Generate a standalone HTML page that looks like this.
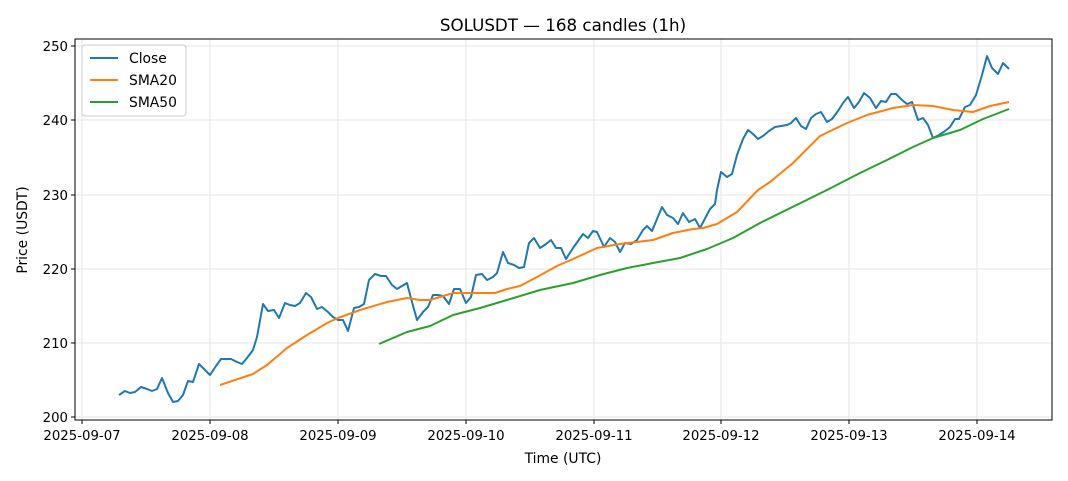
<!DOCTYPE html>
<html><head><meta charset="utf-8"><style>
body{margin:0;background:#fff}
svg{display:block;font-family:"DejaVu Sans","Liberation Sans",sans-serif}
</style></head><body>
<svg width="1068" height="481" viewBox="0 0 1068 481" xmlns="http://www.w3.org/2000/svg">
<rect width="1068" height="481" fill="#fff"/>
<g stroke="#e6e6e6" stroke-width="1">
<line x1="82" y1="39" x2="82" y2="420"/><line x1="210" y1="39" x2="210" y2="420"/><line x1="338" y1="39" x2="338" y2="420"/><line x1="466" y1="39" x2="466" y2="420"/><line x1="594" y1="39" x2="594" y2="420"/><line x1="721" y1="39" x2="721" y2="420"/><line x1="849" y1="39" x2="849" y2="420"/><line x1="977" y1="39" x2="977" y2="420"/>
<line x1="75" y1="417" x2="1052" y2="417"/><line x1="75" y1="343" x2="1052" y2="343"/><line x1="75" y1="269" x2="1052" y2="269"/><line x1="75" y1="195" x2="1052" y2="195"/><line x1="75" y1="120" x2="1052" y2="120"/><line x1="75" y1="46" x2="1052" y2="46"/>
</g>
<g fill="none" stroke-width="2" stroke-linejoin="round">
<polyline stroke="#1f77b4" points="119,395 125,391 130,393 135,392 141,387 147,389 152,391 157,389 162,378 168,393 173,402 178,401 183,395 188,381 193,382 199,364 210,375 216,366 221,359 226,359 231,359 237,362 242,364 247,358 253,350 257,337 263,304 268,311 274,310 279,318 285,303 290,305 295,306 300,303 306,293 311,297 317,309 322,307 328,312 333,317 338,320 343,320 348,331 354,308 359,307 364,304 369,280 375,274 381,276 386,276 392,285 397,289 407,283 412,302 417,320 423,312 428,307 433,295 438,295 443,296 449,304 454,289 460,289 466,303 471,297 476,275 482,274 487,280 493,277 497,273 503,252 508,263 514,265 519,268 524,267 529,243 534,238 540,248 546,244 551,240 556,248 561,248 566,259 573,248 578,241 583,234 588,238 593,231 597,232 604,247 610,238 615,242 620,252 625,243 631,244 637,240 643,230 647,226 652,231 662,207 667,215 673,218 678,224 683,213 689,222 695,219 700,228 710,209 715,204 717,190 721,172 727,177 732,174 737,155 743,139 748,130 753,134 758,139 763,136 769,131 775,127 781,126 787,125 791,123 796,118 801,126 806,129 811,118 816,114 821,112 827,122 832,119 838,111 843,103 848,97 854,108 859,102 864,93 870,98 876,108 881,101 886,102 891,94 896,94 902,100 907,104 912,102 918,120 923,118 928,125 933,138 939,135 945,131 950,127 955,119 959,119 965,107 970,105 976,95 982,75 987,56 992,68 998,74 1003,63 1009,69"/>
<polyline stroke="#ff7f0e" points="220,385 253,374 267,365 287,348 307,335 327,323 338,318 360,310 387,302 407,298 420,300 430,300 453,293 467,293 495,293 507,289 520,286 537,277 557,266 573,259 597,248 620,244 653,240 673,233 693,229 703,228 717,224 737,212 758,190 770,182 793,163 820,136 847,123 867,115 893,108 913,105 933,106 953,110 973,112 990,106 1009,102"/>
<polyline stroke="#2ca02c" points="379,344 407,332 430,326 453,315 480,308 507,300 540,290 573,283 600,275 627,268 653,263 680,258 707,249 733,238 760,223 827,190 860,173 887,160 913,147 933,138 960,130 983,119 1009,109"/>
</g>
<rect x="75" y="39" width="977" height="381" fill="none" stroke="#000" stroke-width="1"/>
<g stroke="#000" stroke-width="1">
<line x1="82" y1="420" x2="82" y2="424"/><line x1="210" y1="420" x2="210" y2="424"/><line x1="338" y1="420" x2="338" y2="424"/><line x1="466" y1="420" x2="466" y2="424"/><line x1="594" y1="420" x2="594" y2="424"/><line x1="721" y1="420" x2="721" y2="424"/><line x1="849" y1="420" x2="849" y2="424"/><line x1="977" y1="420" x2="977" y2="424"/>
<line x1="71" y1="417" x2="75" y2="417"/><line x1="71" y1="343" x2="75" y2="343"/><line x1="71" y1="269" x2="75" y2="269"/><line x1="71" y1="195" x2="75" y2="195"/><line x1="71" y1="120" x2="75" y2="120"/><line x1="71" y1="46" x2="75" y2="46"/>
</g>
<g font-size="13.3" fill="#000" text-anchor="middle">
<text x="82" y="440">2025-09-07</text><text x="210" y="440">2025-09-08</text><text x="338" y="440">2025-09-09</text><text x="466" y="440">2025-09-10</text><text x="594" y="440">2025-09-11</text><text x="721" y="440">2025-09-12</text><text x="849" y="440">2025-09-13</text><text x="977" y="440">2025-09-14</text>
</g>
<g font-size="13.3" fill="#000" text-anchor="end">
<text x="68" y="422">200</text><text x="68" y="348">210</text><text x="68" y="274">220</text><text x="68" y="200">230</text><text x="68" y="125">240</text><text x="68" y="51">250</text>
</g>
<text x="563" y="463" font-size="13.9" text-anchor="middle">Time (UTC)</text>
<text x="27" y="230" font-size="13.9" text-anchor="middle" transform="rotate(-90 27 230)">Price (USDT)</text>
<text x="563" y="31" font-size="16.7" text-anchor="middle">SOLUSDT — 168 candles (1h)</text>
<rect x="82" y="45" width="104" height="71" rx="3" fill="#fff" fill-opacity="0.8" stroke="#ccc"/>
<line x1="90" y1="58" x2="118" y2="58" stroke="#1f77b4" stroke-width="2"/>
<line x1="90" y1="80" x2="118" y2="80" stroke="#ff7f0e" stroke-width="2"/>
<line x1="90" y1="102" x2="118" y2="102" stroke="#2ca02c" stroke-width="2"/>
<g font-size="13.9" fill="#000"><text x="129" y="63">Close</text><text x="129" y="85">SMA20</text><text x="129" y="107">SMA50</text></g>
</svg>
</body></html>
